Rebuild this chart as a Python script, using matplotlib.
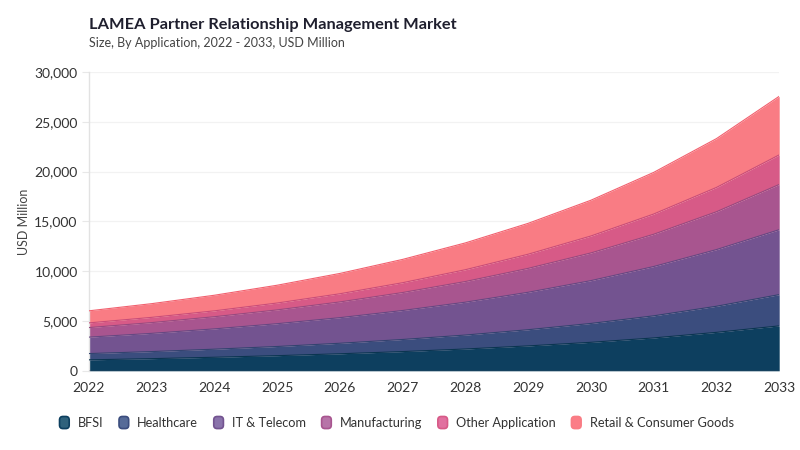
import matplotlib
matplotlib.use("Agg")
import matplotlib.pyplot as plt
from matplotlib.patches import FancyBboxPatch, Patch
from matplotlib.legend_handler import HandlerPatch

plt.rcParams['font.family'] = ['Lato', 'DejaVu Sans']

years = [2022, 2023, 2024, 2025, 2026, 2027, 2028, 2029, 2030, 2031, 2032, 2033]
segments = ["BFSI", "Healthcare", "IT & Telecom", "Manufacturing",
            "Other Application", "Retail & Consumer Goods"]

# values, USD million
bfsi = [1100, 1220, 1360, 1520, 1710, 1930, 2190, 2500, 2860, 3300, 3860, 4510]
healthcare = [630, 710, 810, 920, 1055, 1215, 1400, 1625, 1895, 2220, 2620, 3140]
it_telecom = [1650, 1830, 2040, 2290, 2570, 2910, 3300, 3760, 4300, 4950, 5690, 6520]
manufacturing = [960, 1080, 1220, 1385, 1580, 1805, 2075, 2400, 2780, 3240, 3800, 4540]
other_app = [470, 525, 590, 690, 820, 985, 1185, 1420, 1700, 2030, 2440, 2970]
retail = [1210, 1375, 1565, 1785, 2040, 2340, 2690, 3100, 3590, 4180, 4900, 5880]

fill_colors = ["#0d3f5f", "#3b4d7e", "#735390", "#a8558f", "#d75a87", "#f97c84"]
edge_colors = ["#0a3550", "#33436f", "#664882", "#974a80", "#c94d79", "#f2606e"]
legend_fill = ["#2f627c", "#566b98", "#8a73ab", "#b774a8", "#e1709f", "#fb7d87"]


class RoundHandler(HandlerPatch):
    def create_artists(self, legend, orig_handle, xdescent, ydescent,
                       width, height, fontsize, trans):
        h = height * 1.35
        w = h * 0.8
        x0 = (width - w) / 2 - xdescent
        y0 = (height - h) / 2 - ydescent
        p = FancyBboxPatch((x0, y0), w, h,
                           boxstyle="round,pad=0,rounding_size=%f" % (w * 0.35),
                           facecolor=orig_handle.get_facecolor(),
                           edgecolor=orig_handle.get_edgecolor(), lw=1.2,
                           transform=trans)
        return [p]


fig = plt.figure(figsize=(8, 4.5), dpi=100)
ax = fig.add_axes([0.111, 0.176, 0.863, 0.664])

series = [bfsi, healthcare, it_telecom, manufacturing, other_app, retail]
base = [0] * len(years)
for vals, fc, ec in zip(series, fill_colors, edge_colors):
    top = [b + v for b, v in zip(base, vals)]
    ax.fill_between(years, base, top, color=fc, lw=0, zorder=2)
    ax.plot(years, top, color=ec, lw=0.8, zorder=3)
    base = top
ax.axhline(0, color="#3c4a5e", lw=1.0, zorder=4)

ax.set_xlim(2022, 2033)
ax.set_ylim(0, 30000)
ax.set_xticks(years)
ax.set_xticklabels([str(y) for y in years])
ax.set_yticks(range(0, 30001, 5000))
ax.set_yticklabels(["{:,}".format(v) for v in range(0, 30001, 5000)])
ax.grid(axis='y', color="#f2f2f2", lw=0.9, zorder=0)
ax.set_axisbelow(True)
for s in ["top", "right", "bottom"]:
    ax.spines[s].set_visible(False)
ax.spines["left"].set_color("#e2e2e2")
ax.spines["left"].set_linewidth(1.0)
ax.tick_params(axis='y', length=5, color="#e8e8e8", labelsize=10,
               labelcolor="#333333", pad=3)
ax.tick_params(axis='x', length=0, labelsize=10, labelcolor="#333333", pad=8)
ax.set_ylabel("USD Million", fontsize=9, color="#444444")
ax.yaxis.set_label_coords(-0.085, 0.5)

fig.text(0.111, 0.935, "LAMEA Partner Relationship Management Market",
         fontsize=11.8, fontweight="bold", color="#1f1f2e")
fig.text(0.111, 0.895, "Size, By Application, 2022 - 2033, USD Million",
         fontsize=9, color="#444444")

handles = [Patch(facecolor=lf, edgecolor=ec, label=name)
           for lf, ec, name in zip(legend_fill, fill_colors, segments)]
fig.legend(handles=handles, loc="center", bbox_to_anchor=(0.494, 0.06),
           ncol=6, frameon=False, fontsize=9.2, handlelength=1.2,
           handletextpad=0.45, columnspacing=1.0,
           handler_map={Patch: RoundHandler()}, labelcolor="#333333")

fig.savefig("out.png", dpi=100)
